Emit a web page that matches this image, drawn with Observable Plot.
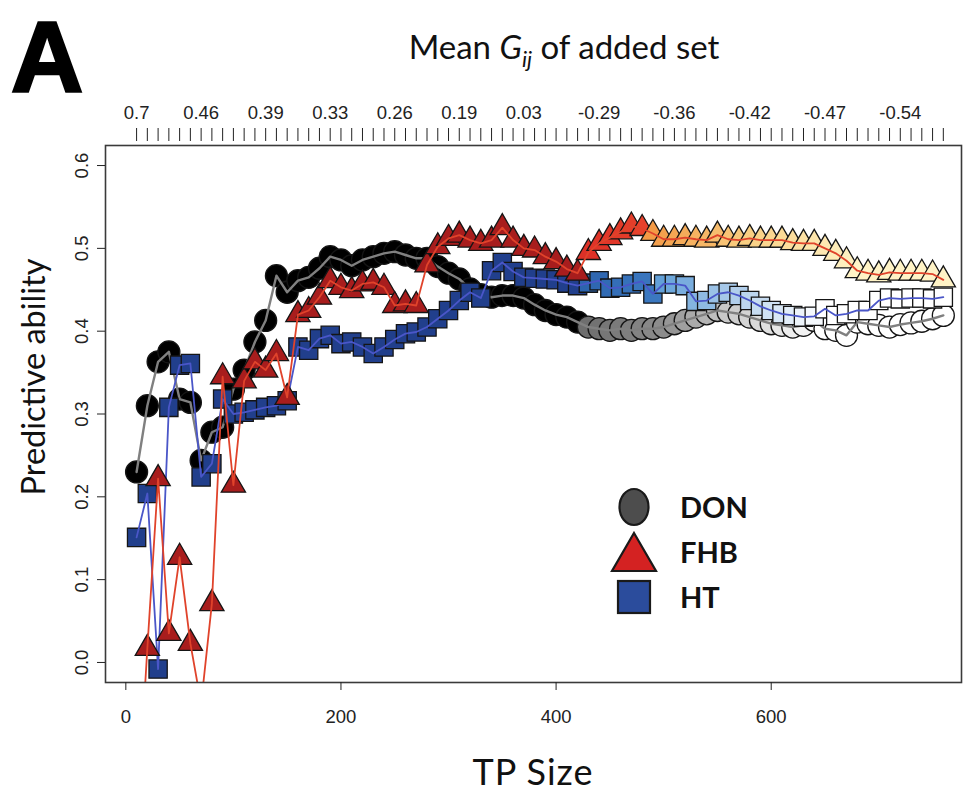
<!DOCTYPE html>
<html><head><meta charset="utf-8">
<script src="https://cdn.jsdelivr.net/npm/d3@7"></script>
<script src="https://cdn.jsdelivr.net/npm/@observablehq/plot@0.6"></script>
<style>
body{margin:0;background:#fff;}
#wrap{position:relative;width:964px;height:794px;overflow:hidden;background:#fff;}
#wrap svg.plot{position:absolute;left:0;top:0;}
.panel{position:absolute;left:11px;top:0px;font:700 100px "Liberation Sans", Arial, sans-serif;-webkit-text-stroke:2.5px #000;color:#000;}
.title{position:absolute;left:0;width:1128px;top:26px;text-align:center;font:400 33px Lato, sans-serif;color:#111;}
.ylab{position:absolute;left:32px;top:377px;transform:translate(-50%,-50%) rotate(-90deg);font:400 32.5px Lato, sans-serif;white-space:nowrap;color:#111;}
.xlab{position:absolute;left:533px;top:753px;transform:translateX(-50%);font:400 36px Lato, sans-serif;line-height:1;letter-spacing:1px;white-space:nowrap;color:#111;}
.legend{position:absolute;left:610px;top:484px;}
.legend .row{display:flex;align-items:center;height:45px;}
.legend .row span{margin-left:22px;font:700 29px Lato, sans-serif;color:#111;}
</style></head>
<body><div id="wrap"></div>
<script>
const tpSize = [10,20,30,40,50,60,70,80,90,100,110,120,130,140,150,160,170,180,190,200,
  210,220,230,240,250,260,270,280,290,300,310,320,330,340,350,360,370,380,390,400,
  410,420,430,440,450,460,470,480,490,500,510,520,530,540,550,560,570,580,590,600,
  610,620,630,640,650,660,670,680,690,700,710,720,730,740,750,760];

const don = [0.230,0.310,0.363,0.375,0.318,0.314,0.244,0.278,0.284,0.330,
  0.353,0.387,0.413,0.467,0.447,0.461,0.465,0.476,0.490,0.486,
  0.479,0.486,0.490,0.494,0.496,0.492,0.488,0.488,0.478,0.470,
  0.463,0.451,0.444,0.441,0.443,0.443,0.440,0.432,0.425,0.420,
  0.417,0.411,0.405,0.403,0.401,0.403,0.401,0.403,0.403,0.405,
  0.409,0.413,0.417,0.421,0.425,0.423,0.421,0.417,0.413,0.409,
  0.407,0.405,0.407,0.413,0.403,0.401,0.395,0.411,0.409,0.407,
  0.405,0.408,0.410,0.412,0.415,0.419];

const fhb = [-0.200,0.017,0.222,0.035,0.127,0.023,-0.050,0.071,0.345,0.214,
  0.340,0.363,0.353,0.373,0.320,0.420,0.425,0.441,0.461,0.453,
  0.449,0.457,0.459,0.453,0.431,0.433,0.431,0.480,0.502,0.512,
  0.516,0.510,0.506,0.510,0.525,0.510,0.500,0.498,0.490,0.484,
  0.475,0.470,0.495,0.506,0.513,0.520,0.527,0.524,0.518,0.511,
  0.511,0.513,0.511,0.510,0.516,0.511,0.510,0.512,0.510,0.510,
  0.510,0.507,0.506,0.506,0.500,0.494,0.485,0.473,0.470,0.468,
  0.471,0.470,0.470,0.470,0.469,0.462];

const ht = [0.151,0.204,-0.008,0.308,0.359,0.361,0.224,0.240,0.318,0.300,
  0.302,0.305,0.308,0.310,0.316,0.381,0.377,0.391,0.395,0.385,
  0.387,0.381,0.373,0.381,0.390,0.397,0.399,0.405,0.415,0.425,
  0.437,0.447,0.440,0.473,0.483,0.472,0.465,0.464,0.463,0.462,
  0.458,0.455,0.458,0.461,0.452,0.453,0.457,0.460,0.445,0.457,
  0.457,0.455,0.436,0.437,0.445,0.447,0.443,0.437,0.430,0.425,
  0.421,0.419,0.417,0.418,0.427,0.419,0.421,0.425,0.425,0.437,
  0.440,0.439,0.440,0.440,0.439,0.441];

const topLabelTP = [10,70,130,190,250,310,370,440,510,580,650,720];
const topLabels = ["0.7","0.46","0.39","0.33","0.26","0.19","0.03","-0.29","-0.36","-0.42","-0.47","-0.54"];
const xTicks = [0,200,400,600];
const yTicks = [0,0.1,0.2,0.3,0.4,0.5,0.6];
const seriesNames = ["DON","FHB","HT"];

const fills = {
  DON: d3.scaleLinear().domain([420,430,500,560,650]).range(["#000000","#6e6e6e","#8c8c8c","#c8c8c8","#ffffff"]).clamp(true),
  FHB: d3.scaleLinear().domain([420,430,480,490,580,680]).range(["#a81d1d","#dd3127","#e6412b","#f39a46","#f9cf82","#fff3c6"]).clamp(true),
  HT: d3.scaleLinear().domain([420,430,490,500,580,650]).range(["#213f8c","#2c64ae","#3b78c0","#62a0d8","#bcd5ee","#ffffff"]).clamp(true)
};
const series = [
  {name:"DON", values: don, symbol:"circle", r:11, line:"#808080", lw:2.4},
  {name:"HT", values: ht, symbol:"square", r:10.3, line:"#4a56c8", lw:1.8},
  {name:"FHB", values: fhb, symbol:"triangle", r:9, line:"#e0432b", lw:1.8}
];
const labelMap = new Map(topLabelTP.map((t,i)=>[t, topLabels[i]]));

const marks = [];
for (const s of series) {
  const rows = tpSize.map((tp,i)=>({tp, v: s.values[i], series: s.name}));
  marks.push(Plot.dot(rows, {x:"tp", y:"v", symbol: s.symbol, r: s.r, fill: d => fills[s.name](d.tp), stroke:"#151515", strokeWidth:1.3, clip:true}));
  marks.push(Plot.line(rows, {x:"tp", y:"v", stroke: s.line, strokeWidth: s.lw, clip:true}));
}

const chart = Plot.plot({
  width: 964, height: 794,
  marginTop: 145, marginBottom: 112, marginLeft: 105, marginRight: 3,
  style: {fontFamily: "'Liberation Sans', Arial, sans-serif", fontSize: "18.5px", background: "#fff", color: "#222"},
  x: {domain: [-18.9, 776.9]},
  y: {domain: [-0.0242, 0.6242]},
  color: {type: "identity"},
  marks: [
    ...marks,
    Plot.frame({stroke: "#3a3a3a", strokeWidth: 1.6}),
    Plot.axisY({ticks: yTicks, tickSize: 8, tickPadding: 10, tickRotate: -90, tickFormat: d3.format(".1f"), label: null}),
    Plot.axisX({anchor: "bottom", ticks: xTicks, tickSize: 8, tickPadding: 19, label: null}),
    Plot.axisX({anchor: "top", ticks: tpSize, tickSize: 13, tickPadding: 9, dy: -5, tickFormat: d => labelMap.get(d) ?? "", label: null})
  ]
});
chart.classList.add("plot");
const wrap = document.getElementById("wrap");
wrap.appendChild(chart);

const add = (html) => { const d = document.createElement("div"); d.innerHTML = html; wrap.appendChild(d.firstElementChild); };
add(`<div class="panel">A</div>`);
add(`<div class="title">Mean <i>G</i><sub style="font-size:22px;font-style:italic;">ij</sub> of added set</div>`);
add(`<div class="ylab">Predictive ability</div>`);
add(`<div class="xlab">TP Size</div>`);

const legSvg = {
  DON: `<svg width="34" height="40"><ellipse cx="17" cy="20" rx="14.5" ry="18" fill="#4d4d4d" stroke="#1a1a1a" stroke-width="2.2"/></svg>`,
  FHB: `<svg width="48" height="42"><polygon points="24,2 46,40 2,40" fill="#d42222" stroke="#1a1a1a" stroke-width="2.2"/></svg>`,
  HT: `<svg width="36" height="36"><rect x="2" y="2" width="32" height="32" fill="#2b4c9c" stroke="#1a1a1a" stroke-width="2.2"/></svg>`
};
const leg = document.createElement("div");
leg.className = "legend";
for (const n of seriesNames) {
  const row = document.createElement("div");
  row.className = "row";
  row.innerHTML = `<div style="width:48px;display:flex;justify-content:center;">${legSvg[n]}</div><span>${n}</span>`;
  leg.appendChild(row);
}
wrap.appendChild(leg);
</script>
</body></html>
